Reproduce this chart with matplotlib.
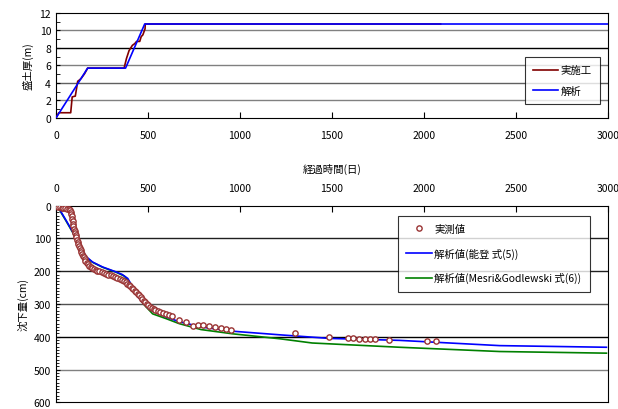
""" Embankment thickness and settlement vs elapsed time """
import matplotlib
matplotlib.use('Agg')
import matplotlib.pyplot as plt
from matplotlib.ticker import MultipleLocator

plt.rcParams['font.family'] = ['Noto Sans CJK JP', 'DejaVu Sans']
plt.rcParams['font.size'] = 7.5

# fill thickness (m)
fill_actual_t = [0, 15, 80, 88, 95, 105, 118, 122, 136, 155, 172, 370, 383, 397, 415,
                 428, 438, 455, 463, 472, 484, 485, 2090]
fill_actual_h = [0, 0.6, 0.6, 2.4, 2.45, 2.5, 4.2, 4.25, 4.5, 5.05, 5.7, 5.7, 6.8, 7.7,
                 8.3, 8.5, 8.75, 8.75, 9.3, 9.5, 10.2, 10.74, 10.74]
fill_calc_t = [0, 172, 378, 482, 3000]
fill_calc_h = [0, 5.7, 5.7, 10.74, 10.74]

# settlement (cm)
meas_t = [0, 10, 20, 30, 40, 50, 60, 70, 78, 82, 84, 86, 88, 90, 92, 95, 98, 101, 104,
          107, 110, 114, 118, 122, 126, 130, 134, 138, 142, 146, 150, 155, 160, 166, 172,
          180, 188, 196, 205, 215, 225, 236, 248, 260, 272, 285, 298, 310, 322, 334, 346,
          358, 368, 378, 388, 396, 404, 412, 420, 428, 436, 444, 452, 460, 468, 476, 484,
          492, 500, 510, 520, 530, 540, 553, 565, 580, 598, 615, 630, 671, 707, 743, 770,
          797, 834, 866, 897, 924, 951, 1296, 1486, 1586, 1613, 1645, 1677, 1707, 1735,
          1809, 2015, 2066]
meas_s = [0, 3, 5, 6, 7, 8, 9, 11, 14, 19, 25, 32, 40, 48, 55, 63, 70, 76, 83, 90, 96,
          104, 111, 118, 124, 130, 136, 141, 147, 153, 158, 164, 170, 175, 179, 183, 187,
          191, 194, 196, 198, 200, 203, 206, 208, 210, 213, 215, 218, 220, 223, 227, 230,
          234, 238, 242, 246, 250, 255, 259, 264, 268, 273, 279, 284, 290, 295, 300, 304,
          309, 313, 316, 319, 321, 324, 327, 330, 333, 336, 350, 356, 366, 364, 364, 368,
          371, 374, 376, 379, 389, 402, 404, 404, 406, 406, 406, 406, 409, 413, 413]

noto_t = [0, 8, 18, 54, 90, 127, 163, 199, 253, 326, 360, 390, 400, 420, 440, 467, 495,
          525, 600, 670, 788, 960, 1215, 1486, 1867, 2411, 2991]
noto_s = [0, 0, 10, 44, 79, 120, 155, 172, 187, 202, 210, 222, 232, 255, 275, 292, 310,
          322, 340, 354, 370, 383, 394, 405, 411, 427, 432]
mesri_t = [0, 8, 18, 54, 90, 127, 163, 199, 253, 326, 371, 408, 444, 480, 525, 600, 670,
           788, 960, 1215, 1392, 1867, 2411, 2991]
mesri_s = [0, 0, 12, 46, 81, 122, 157, 173, 188, 203, 215, 239, 274, 303, 330, 345, 360,
           378, 391, 406, 419, 432, 445, 450]


def style_grid(ax, levels):
    for y, c in levels:
        ax.axhline(y, color=c, lw=1.0, zorder=1)


fig = plt.figure(figsize=(6.18, 4.10), dpi=100)

# upper chart
ax1 = fig.add_axes([0.0906, 0.7098, 0.8934, 0.2561])
style_grid(ax1, [(2, '#808080'), (4, '#606060'), (6, '#808080'), (8, '#000000'),
                 (10, '#808080')])
ax1.plot(fill_actual_t, fill_actual_h, color='#800000', lw=1.2, label='実施工', zorder=3)
ax1.plot(fill_calc_t, fill_calc_h, color='#0000FF', lw=1.2, label='解析', zorder=4)
ax1.set_xlim(0, 3000)
ax1.set_ylim(0, 12)
ax1.set_xticks(range(0, 3001, 500))
ax1.set_yticks(range(0, 13, 2))
ax1.yaxis.set_minor_locator(MultipleLocator(1))
ax1.tick_params(axis='x', direction='in', length=4, pad=9)
ax1.tick_params(axis='y', which='both', direction='in', length=3)
ax1.set_ylabel('盛土厚(m)', labelpad=4)
leg1 = ax1.legend(loc='lower right', bbox_to_anchor=(0.985, 0.133), borderaxespad=0,
                  frameon=True, fancybox=False, edgecolor='black', handlelength=2.4,
                  labelspacing=1.0, borderpad=0.8, handletextpad=0.2)
leg1.get_frame().set_linewidth(0.8)

# lower chart
ax2 = fig.add_axes([0.0906, 0.0163, 0.8934, 0.4796])
style_grid(ax2, [(100, '#202020'), (200, '#202020'), (300, '#505050'), (400, '#000000'),
                 (500, '#808080')])
ax2.plot(meas_t, meas_s, 'o', ms=3.8, mfc='white', mec='#993333', mew=1.0,
         label='実測値', zorder=5)
ax2.plot(noto_t, noto_s, color='#0000FF', lw=1.2, label='解析値(能登 式(5))', zorder=4)
ax2.plot(mesri_t, mesri_s, color='#008000', lw=1.2,
         label='解析値(Mesri&Godlewski 式(6))', zorder=3)
ax2.set_xlim(0, 3000)
ax2.set_ylim(600, 0)
ax2.set_xticks(range(0, 3001, 500))
ax2.set_yticks(range(0, 601, 100))
ax2.yaxis.set_minor_locator(MultipleLocator(10))
ax2.xaxis.tick_top()
ax2.xaxis.set_label_position('top')
ax2.tick_params(axis='x', direction='in', length=4, pad=9)
ax2.tick_params(axis='y', which='both', direction='in', length=3)
ax2.tick_params(axis='y', which='minor', length=2)
ax2.set_xlabel('経過時間(日)', labelpad=8)
ax2.set_ylabel('沈下量(cm)', labelpad=4)
leg2 = ax2.legend(loc='upper right', bbox_to_anchor=(0.967, 0.949), borderaxespad=0,
                  frameon=True, fancybox=False, edgecolor='black', handlelength=2.5,
                  labelspacing=1.3, borderpad=0.8, handletextpad=0.2)
leg2.get_frame().set_linewidth(0.8)

fig.savefig('out.png', dpi=100)
